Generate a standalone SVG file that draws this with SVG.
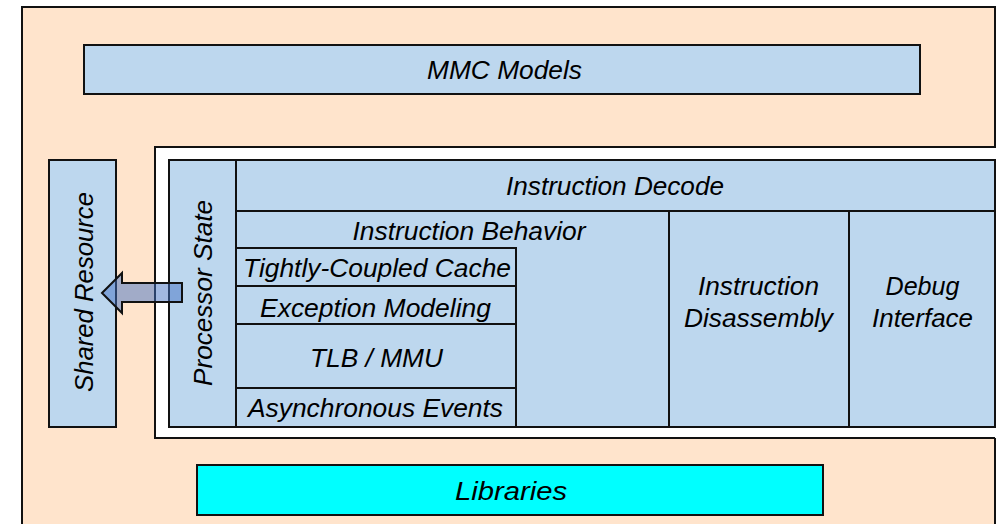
<svg xmlns="http://www.w3.org/2000/svg" width="1005" height="524" viewBox="0 0 1005 524">
<style>
.box{fill:#BDD7EE;stroke:#111;stroke-width:2}
.ln{stroke:#111;stroke-width:2;fill:none}
.t{font-family:"Liberation Sans",Arial,sans-serif;font-style:italic;font-size:25.5px;fill:#000;text-anchor:middle}
</style>
<rect width="1005" height="524" fill="#fff"/>
<g id="background">
<rect x="22" y="7" width="973" height="540" fill="#FFE4CC" stroke="#111" stroke-width="2"/>
<rect x="155" y="147" width="842" height="291" fill="#fff"/>
<polyline class="ln" points="996,147 155,147 155,438 995,438"/>
</g>
<g id="mmc-models">
<rect class="box" x="84" y="45" width="836" height="49"/>
<text class="t" x="504.5" y="79" textLength="155" lengthAdjust="spacingAndGlyphs">MMC Models</text>
</g>
<g id="shared-resource">
<rect class="box" x="49" y="160" width="67" height="267"/>
<text class="t" transform="translate(93,292) rotate(-90)" textLength="200" lengthAdjust="spacingAndGlyphs">Shared Resource</text>
</g>
<g id="processor-state">
<rect class="box" x="169" y="160" width="67" height="267"/>
<text class="t" transform="translate(212,293) rotate(-90)" textLength="186" lengthAdjust="spacingAndGlyphs">Processor State</text>
</g>
<g id="instruction-decode">
<rect class="box" x="236" y="160" width="759" height="51"/>
<text class="t" x="615" y="195" textLength="218" lengthAdjust="spacingAndGlyphs">Instruction Decode</text>
</g>
<g id="instruction-behavior">
<rect class="box" x="236" y="211" width="433" height="216"/>
<text class="t" x="469" y="240" textLength="233" lengthAdjust="spacingAndGlyphs">Instruction Behavior</text>
</g>
<g id="tightly-coupled-cache">
<rect class="box" x="236" y="248" width="280" height="38"/>
<text class="t" x="377" y="277" textLength="268" lengthAdjust="spacingAndGlyphs">Tightly-Coupled Cache</text>
</g>
<g id="exception-modeling">
<rect class="box" x="236" y="286" width="280" height="38"/>
<text class="t" x="375.5" y="317" textLength="231" lengthAdjust="spacingAndGlyphs">Exception Modeling</text>
</g>
<g id="tlb-mmu">
<rect class="box" x="236" y="324" width="280" height="64"/>
<text class="t" x="376.5" y="367" textLength="133" lengthAdjust="spacingAndGlyphs">TLB / MMU</text>
</g>
<g id="asynchronous-events">
<rect class="box" x="236" y="388" width="280" height="39"/>
<text class="t" x="375.5" y="417" textLength="255" lengthAdjust="spacingAndGlyphs">Asynchronous Events</text>
</g>
<g id="instruction-disassembly">
<rect class="box" x="669" y="211" width="180" height="216"/>
<text class="t" x="758.5" y="295" textLength="121" lengthAdjust="spacingAndGlyphs">Instruction</text>
<text class="t" x="758.5" y="327" textLength="149" lengthAdjust="spacingAndGlyphs">Disassembly</text>
</g>
<g id="debug-interface">
<rect class="box" x="849" y="211" width="146" height="216"/>
<text class="t" x="922.5" y="295" textLength="74" lengthAdjust="spacingAndGlyphs">Debug</text>
<text class="t" x="922.5" y="327" textLength="101" lengthAdjust="spacingAndGlyphs">Interface</text>
</g>
<g id="libraries">
<rect x="197" y="465" width="626" height="50" fill="#00FFFF" stroke="#111" stroke-width="2"/>
<text class="t" x="511" y="500" textLength="112" lengthAdjust="spacingAndGlyphs">Libraries</text>
</g>
<g id="connectors">
<polygon points="102,293 122,273 122,283 182,283 182,302 122,302 122,313" fill="#4472C4" fill-opacity="0.5" stroke="#111" stroke-width="2" stroke-linejoin="miter"/>
</g>
</svg>
